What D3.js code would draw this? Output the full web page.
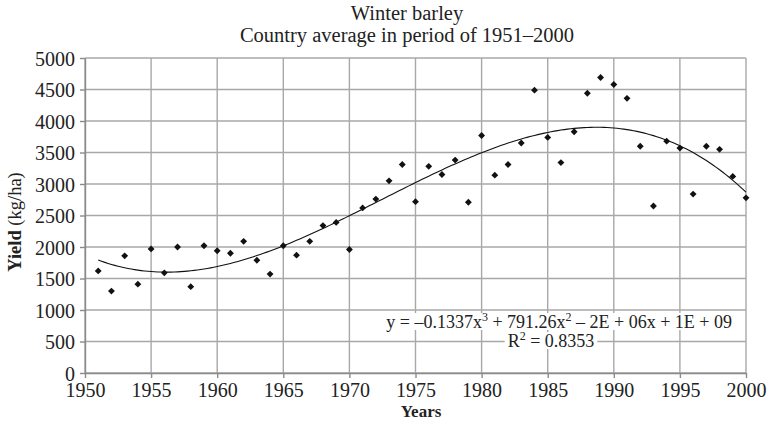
<!DOCTYPE html>
<html>
<head>
<meta charset="utf-8">
<script src="https://cdn.jsdelivr.net/npm/d3@7"></script>
<style>
  body { margin: 0; background: #fff; }
  svg text { font-family: "Liberation Serif", "Times New Roman", serif; fill: #222; }
</style>
</head>
<body>
<div id="chart"></div>
<script>
// DATA
const years = d3.range(1951, 2001);
const yields = [
  1620, 1300, 1860, 1410, 1970, 1590, 2000, 1370, 2020, 1940,
  1900, 2090, 1790, 1570, 2020, 1870, 2090, 2340, 2390, 1960,
  2620, 2760, 3050, 3310, 2720, 3280, 3150, 3380, 2710, 3770,
  3140, 3310, 3650, 4490, 3740, 3340, 3830, 4440, 4690, 4580,
  4360, 3600, 2650, 3680, 3570, 2840, 3600, 3550, 3120, 2780
];
const xTicks = d3.range(1950, 2001, 5);
const yTicks = d3.range(0, 5001, 500);
const titleLines = ['Winter barley', 'Country average in period of 1951\u20132000'];

const W = 773, H = 426;
const margin = { top: 58, right: 27, bottom: 53, left: 85 };
const width = W - margin.left - margin.right;
const height = H - margin.top - margin.bottom;

const svg = d3.select('#chart').append('svg').attr('width', W).attr('height', H);
const g = svg.append('g').attr('transform', 'translate(' + margin.left + ',' + margin.top + ')');

const x = d3.scaleLinear().domain([1950, 2000]).range([0, width]);
const y = d3.scaleLinear().domain([0, 5000]).range([height, 0]);

//GRID
g.selectAll('.vgrid').data(xTicks).enter().append('line')
  .attr('x1', d => x(d)).attr('x2', d => x(d))
  .attr('y1', 0).attr('y2', height)
  .attr('stroke', '#a8a8a8').attr('stroke-width', 1.4);
g.selectAll('.hgrid').data(yTicks).enter().append('line')
  .attr('x1', 0).attr('x2', width)
  .attr('y1', d => y(d)).attr('y2', d => y(d))
  .attr('stroke', '#a8a8a8').attr('stroke-width', 1.4);

//AXES
const xAxis = g.append('g').attr('transform', 'translate(0,' + height + ')')
  .call(d3.axisBottom(x).tickValues(xTicks).tickFormat(d3.format('d')).tickSizeInner(5).tickSizeOuter(0).tickPadding(3));
const yAxis = g.append('g')
  .call(d3.axisLeft(y).tickValues(yTicks).tickFormat(d3.format('d')).tickSizeInner(5).tickSizeOuter(0).tickPadding(5));
[xAxis, yAxis].forEach(a => {
  a.select('.domain').attr('stroke', '#8a8a8a').attr('stroke-width', 1.4);
  a.selectAll('.tick line').attr('stroke', '#8a8a8a').attr('stroke-width', 1.4);
  a.selectAll('.tick text').style('font-family', '"Liberation Serif", serif').style('font-size', '20px').attr('fill', '#222');
});
xAxis.selectAll('.tick text').attr('dy', '0.78em');
yAxis.selectAll('.tick text').attr('dy', '0.35em');

//TREND (cubic least squares fit of the data, centered years)
function cubicFit(xs, ys) {
  const n = 4;
  const A = [];
  for (let i = 0; i < n; i++) {
    A.push(new Array(n + 1).fill(0));
  }
  xs.forEach((xv, k) => {
    for (let i = 0; i < n; i++) {
      for (let j = 0; j < n; j++) A[i][j] += Math.pow(xv, i + j);
      A[i][n] += ys[k] * Math.pow(xv, i);
    }
  });
  for (let c = 0; c < n; c++) {
    let p = c;
    for (let r = c + 1; r < n; r++) if (Math.abs(A[r][c]) > Math.abs(A[p][c])) p = r;
    [A[c], A[p]] = [A[p], A[c]];
    for (let r = 0; r < n; r++) {
      if (r === c) continue;
      const f = A[r][c] / A[c][c];
      for (let k = c; k <= n; k++) A[r][k] -= f * A[c][k];
    }
  }
  return A.map((row, i) => row[n] / row[i]);
}
const cx = years.map(d => d - 1975);
const coef = cubicFit(cx, yields);
const trend = d3.range(1951, 2000.01, 0.25).map(t => {
  const u = t - 1975;
  return [t, coef[0] + coef[1] * u + coef[2] * u * u + coef[3] * u * u * u];
});
g.append('path').datum(trend)
  .attr('fill', 'none').attr('stroke', '#111').attr('stroke-width', 1.1)
  .attr('d', d3.line().x(d => x(d[0])).y(d => y(d[1])));

//POINTS
g.selectAll('.pt').data(years).enter().append('path')
  .attr('d', d3.symbol().type(d3.symbolDiamond2).size(30))
  .attr('transform', (d, i) => 'translate(' + x(d) + ',' + y(yields[i]) + ')')
  .attr('fill', '#111');

//EQUATION
const eq = g.append('g');
const eq1 = eq.append('text').attr('x', 647).attr('y', 270).attr('text-anchor', 'end').style('font-size', '18px');
eq1.append('tspan').text('y = \u20130.1337x');
eq1.append('tspan').attr('dy', -7).style('font-size', '12px').text('3');
eq1.append('tspan').attr('dy', 7).text(' + 791.26x');
eq1.append('tspan').attr('dy', -7).style('font-size', '12px').text('2');
eq1.append('tspan').attr('dy', 7).text(' \u2013 2E + 06x + 1E + 09');
const eq2 = eq.append('text').attr('x', 466).attr('y', 289).attr('text-anchor', 'middle').style('font-size', '18px');
eq2.append('tspan').text('R');
eq2.append('tspan').attr('dy', -7).style('font-size', '12px').text('2');
eq2.append('tspan').attr('dy', 7).text(' = 0.8353');
[eq1, eq2].forEach(t => {
  const b = t.node().getBBox();
  eq.insert('rect', 'text').attr('x', b.x - 3).attr('y', b.y + 3).attr('width', b.width + 6).attr('height', b.height - 5).attr('fill', '#fff');
});

//TITLES
svg.selectAll('.title').data(titleLines).enter().append('text')
  .attr('x', 407).attr('y', (d, i) => 20 + i * 22)
  .attr('text-anchor', 'middle').style('font-size', '20.5px')
  .text(d => d);

svg.append('text').attr('x', 421).attr('y', 417).attr('text-anchor', 'middle')
  .style('font-size', '17px').style('font-weight', 'bold').text('Years');

const yl = svg.append('text').attr('transform', 'translate(21,222) rotate(-90)')
  .attr('text-anchor', 'middle').style('font-size', '18.5px');
yl.append('tspan').style('font-weight', 'bold').text('Yield');
yl.append('tspan').text(' (kg/ha)');
</script>
</body>
</html>
